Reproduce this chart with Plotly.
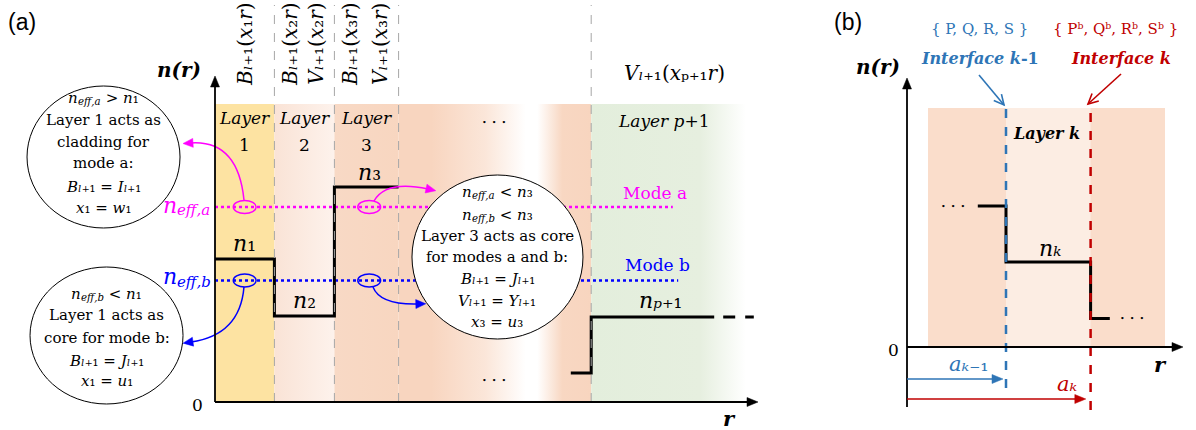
import math
import plotly.graph_objects as go

# ---------------- panel (a): multilayer step-index profile ----------------
layer_edges = [0.0, 0.99, 1.99, 3.06, 6.27]      # r of the layer boundaries
core_levels = [2.86, 1.72, 4.30]                 # n1, n2, n3
last_inner_level = 0.58                          # layer p (just before p+1)
clad_level = 1.70                                # n_{p+1}
last_inner_start = 5.93
clad_end = 8.32
clad_tail = [8.47, 8.98]                         # dashed continuation
clad_band_end = 8.85
neff_a = 3.90
neff_b = 2.43
neff_a_end = 7.63
neff_b_end = 7.72
band_top = 5.96
header_top = 7.94
axis_top_a = 6.52
axis_right_a = 9.05

# ---------------- panel (b): a single layer k ----------------
b_interfaces = [1.65, 3.06]        # a_{k-1}, a_k
b_levels = [2.82, 1.70, 0.57]      # n_{k-1}, n_k, n_{k+1}
b_step_span = [1.18, 3.38]
b_band = [0.35, 4.30]
b_band_top = 4.78
b_dash_bottom = [-0.82, -1.26]
b_radius_rows = [-0.64, -1.04]
axis_top_b = 5.38
axis_bottom_b = -1.20
axis_right_b = 4.60

# screen scale of both panels (pixels per unit of r and of n)
PX_R, PX_N = 60.0, 50.0

SERIF = "DejaVu Serif"
SANS = "Liberation Sans"
MAGENTA = "#FF00FF"
BLUE = "#0000FF"
IF_BLUE = "#2E75B6"
IF_RED = "#C00000"

fig = go.Figure()

# ---------- background bands (a) ----------
band_styles = [
    [[0, "#FDE3A2"], [1, "#FDE3A2"]],
    [[0, "#FAE3D6"], [1, "#FDF2EC"]],
    [[0, "#F8D9C5"], [1, "#F8D6C0"]],
    [[0, "#F8D5BF"], [0.17, "#F8D5BF"], [0.45, "#FBE6D9"], [0.66, "#FFFFFF"],
     [0.72, "#FFFFFF"], [0.85, "#F8D7C2"], [1, "#F8D5BF"]],
]
for i, cs in enumerate(band_styles):
    x0, x1 = layer_edges[i], layer_edges[i + 1]
    fig.add_trace(go.Scatter(
        x=[x0, x1, x1, x0, x0], y=[0, 0, band_top, band_top, 0],
        xaxis="x", yaxis="y", mode="lines", line=dict(width=0),
        fill="toself", fillgradient=dict(type="horizontal", colorscale=cs, start=x0, stop=x1),
        hoverinfo="skip", showlegend=False))
# outer cladding band fading out
x0, x1 = layer_edges[-1], clad_band_end
fig.add_trace(go.Scatter(
    x=[x0, x1, x1, x0, x0], y=[0, 0, band_top, band_top, 0],
    xaxis="x", yaxis="y", mode="lines", line=dict(width=0),
    fill="toself",
    fillgradient=dict(type="horizontal",
                      colorscale=[[0, "#E3EEDC"], [0.7, "#E6EFDF"], [1, "#FFFFFF"]],
                      start=x0, stop=x1),
    hoverinfo="skip", showlegend=False))

# ---------- background bands (b) ----------
fig.add_trace(go.Scatter(
    x=[b_band[0], b_band[1], b_band[1], b_band[0], b_band[0]],
    y=[0, 0, b_band_top, b_band_top, 0], xaxis="x2", yaxis="y2",
    mode="lines", line=dict(width=0), fill="toself", fillcolor="#FADDCB",
    hoverinfo="skip", showlegend=False))
fig.add_trace(go.Scatter(
    x=[b_interfaces[0], b_interfaces[1], b_interfaces[1], b_interfaces[0], b_interfaces[0]],
    y=[0, 0, b_band_top, b_band_top, 0], xaxis="x2", yaxis="y2",
    mode="lines", line=dict(width=0), fill="toself", fillcolor="#FCEDE3",
    hoverinfo="skip", showlegend=False))

shapes = []
annotations = []


def head(xr, yr, tip, toward, col, length=10, half=4.5, open_head=False):
    """Arrowhead at `tip`, pointing along the direction from `toward` to `tip`."""
    dx = (tip[0] - toward[0]) * PX_R
    dy = (tip[1] - toward[1]) * PX_N
    d = math.hypot(dx, dy)
    ux, uy = dx / d, dy / d
    bx, by = -ux * length, -uy * length
    c1 = (tip[0] + (bx - uy * half) / PX_R, tip[1] + (by + ux * half) / PX_N)
    c2 = (tip[0] + (bx + uy * half) / PX_R, tip[1] + (by - ux * half) / PX_N)
    if open_head:
        path = f"M {c1[0]},{c1[1]} L {tip[0]},{tip[1]} L {c2[0]},{c2[1]}"
        shapes.append(dict(type="path", xref=xr, yref=yr, path=path,
                           line=dict(color=col, width=1.6)))
    else:
        path = f"M {tip[0]},{tip[1]} L {c1[0]},{c1[1]} L {c2[0]},{c2[1]} Z"
        shapes.append(dict(type="path", xref=xr, yref=yr, path=path, fillcolor=col,
                           line=dict(color=col, width=0.5)))


def arrow(xr, yr, tail, tip, col, width=1.5, length=10, half=4.5, open_head=False):
    # shorten the shaft so it does not poke through the head
    dx = (tip[0] - tail[0]) * PX_R
    dy = (tip[1] - tail[1]) * PX_N
    d = math.hypot(dx, dy)
    k = 0 if open_head else (length * 0.8) / d
    end = (tip[0] - (tip[0] - tail[0]) * k, tip[1] - (tip[1] - tail[1]) * k)
    shapes.append(dict(type="line", xref=xr, yref=yr, x0=tail[0], y0=tail[1],
                       x1=end[0], y1=end[1], line=dict(color=col, width=width)))
    head(xr, yr, tip, tail, col, length, half, open_head)


# layer boundaries (a)
for r in layer_edges[1:]:
    shapes.append(dict(type="line", xref="x", yref="y", x0=r, x1=r, y0=0, y1=header_top,
                       line=dict(color="#A6A6A6", width=1, dash="dash")))

# effective index lines
fig.add_trace(go.Scatter(x=[0, neff_a_end], y=[neff_a, neff_a], xaxis="x", yaxis="y",
                         mode="lines", line=dict(color=MAGENTA, width=2.5, dash="dot"),
                         hoverinfo="skip", showlegend=False))
fig.add_trace(go.Scatter(x=[0, neff_b_end], y=[neff_b, neff_b], xaxis="x", yaxis="y",
                         mode="lines", line=dict(color=BLUE, width=2.5, dash="dot"),
                         hoverinfo="skip", showlegend=False))

# index profile (a)
fig.add_trace(go.Scatter(
    x=layer_edges[:3] + [layer_edges[3]],
    y=core_levels + [core_levels[-1]],
    xaxis="x", yaxis="y", mode="lines", line=dict(color="black", width=3, shape="hv"),
    hoverinfo="skip", showlegend=False))
fig.add_trace(go.Scatter(
    x=[last_inner_start, layer_edges[-1], clad_end],
    y=[last_inner_level, clad_level, clad_level],
    xaxis="x", yaxis="y", mode="lines", line=dict(color="black", width=3, shape="hv"),
    hoverinfo="skip", showlegend=False))
fig.add_trace(go.Scatter(
    x=clad_tail, y=[clad_level, clad_level], xaxis="x", yaxis="y", mode="lines",
    line=dict(color="black", width=3, dash="12px,10px"), hoverinfo="skip", showlegend=False))

# index profile (b)
fig.add_trace(go.Scatter(
    x=[b_step_span[0], b_interfaces[0], b_interfaces[1], b_step_span[1]],
    y=[b_levels[0], b_levels[1], b_levels[2], b_levels[2]],
    xaxis="x2", yaxis="y2", mode="lines", line=dict(color="black", width=3, shape="hv"),
    hoverinfo="skip", showlegend=False))

# interfaces (b)
for r, yb, col in zip(b_interfaces, b_dash_bottom, [IF_BLUE, IF_RED]):
    shapes.append(dict(type="line", xref="x2", yref="y2", x0=r, x1=r, y0=yb, y1=b_band_top,
                       line=dict(color=col, width=2.5, dash="dash")))

# mode markers (ellipses) on the neff lines
for rc in [(layer_edges[0] + layer_edges[1]) / 2, 2.57]:
    for yc, col in [(neff_a, MAGENTA), (neff_b, BLUE)]:
        shapes.append(dict(type="circle", xref="x", yref="y", x0=rc - 0.19, x1=rc + 0.19,
                           y0=yc - 0.13, y1=yc + 0.13, line=dict(color=col, width=1.5)))

# annotation bubbles
bubbles = [(-1.858, 4.90, 1.275, 1.42), (-1.808, 1.33, 1.275, 1.37), (4.708, 2.90, 1.425, 1.64)]
for cx, cy, rx, ry in bubbles:
    shapes.append(dict(type="circle", xref="x", yref="y", x0=cx - rx, x1=cx + rx,
                       y0=cy - ry, y1=cy + ry, fillcolor="white",
                       line=dict(color="black", width=1), layer="above"))

# curved pointer arrows: (start, control, end, colour)
curves = [
    ((0.483, 4.04), (0.383, 5.24), (-0.40, 5.18), MAGENTA),
    ((2.65, 4.02), (2.85, 4.44), (3.55, 4.26), MAGENTA),
    ((0.483, 2.30), (0.417, 1.34), (-0.40, 1.20), BLUE),
    ((2.633, 2.30), (2.75, 1.94), (3.38, 1.96), BLUE),
]
for (sx, sy), (qx, qy), (ex, ey), col in curves:
    shapes.append(dict(type="path", xref="x", yref="y",
                       path=f"M {sx},{sy} Q {qx},{qy} {ex},{ey}",
                       line=dict(color=col, width=1.5)))
    # head continues the curve's end tangent
    dx, dy = (ex - qx) * PX_R, (ey - qy) * PX_N
    d = math.hypot(dx, dy)
    tip = (ex + 8 * dx / d / PX_R, ey + 8 * dy / d / PX_N)
    head("x", "y", tip, (ex, ey), col, length=10, half=4.5)

# axes
arrow("x", "y", (0, 0), (0, axis_top_a), "black", width=1.8, length=11, half=4.5)
arrow("x", "y", (0, 0), (axis_right_a, 0), "black", width=1.8, length=11, half=4.5)
arrow("x2", "y2", (0, axis_bottom_b), (0, axis_top_b), "black", width=1.8, length=11, half=4.5)
arrow("x2", "y2", (0, 0), (axis_right_b, 0), "black", width=1.8, length=11, half=4.5)

# interface pointers and radius arrows (b)
arrow("x2", "y2", (1.20, 5.44), (1.617, 4.84), IF_BLUE, width=1.6, length=10, half=5,
      open_head=True)
arrow("x2", "y2", (3.567, 5.46), (3.017, 4.86), IF_RED, width=1.6, length=10, half=5,
      open_head=True)
arrow("x2", "y2", (0, b_radius_rows[0]), (b_interfaces[0] - 0.05, b_radius_rows[0]), IF_BLUE,
      width=1.5, length=11, half=4.5)
arrow("x2", "y2", (0, b_radius_rows[1]), (b_interfaces[1] - 0.08, b_radius_rows[1]), IF_RED,
      width=1.5, length=11, half=4.5)


# ---------------- text ----------------
_SUB = str.maketrans("0123456789+-lkp", "₀₁₂₃₄₅₆₇₈₉₊₋ₗₖₚ")


def S(s, italic_letters=True):
    """Subscript via Unicode subscript glyphs; letters set in italics."""
    out = []
    for ch in s:
        g = ch.translate(_SUB)
        out.append(f"<i>{g}</i>" if (ch.isalpha() and italic_letters) else g)
    return "".join(out)


def txt(x, y, text, size=16, color="black", family=SERIF, xref="x", yref="y",
        xanchor="center", yanchor="middle", angle=0):
    annotations.append(dict(x=x, y=y, xref=xref, yref=yref, text=text, showarrow=False,
                            font=dict(family=family, size=size, color=color),
                            xanchor=xanchor, yanchor=yanchor, textangle=angle,
                            borderpad=0, borderwidth=0))


# approximate DejaVu Serif advance widths (em) for the few runs that are measured
_W = {"n": 0.64, "e": 0.59, "f": 0.37, ",": 0.32, "a": 0.60, "b": 0.64, " ": 0.32,
      ">": 0.84, "<": 0.84, "₁": 0.40, "₃": 0.40}


def width(s, size):
    return sum(_W.get(c, 0.6) for c in s) * size


def eff_term(x_px_left, y, mode, size, color, xr="x", yr="y", rest=""):
    """Draw n_{eff,mode}[rest] with its left edge at x_px_left (pixel units of r)."""
    sub_size = size * 0.68
    n_w = width("n", size)
    sub_txt = f"eff,{mode}"
    sub_w = width(sub_txt, sub_size)
    txt(x_px_left / PX_R, y, "<i>n</i>", size=size, color=color, xref=xr, yref=yr,
        xanchor="left")
    txt((x_px_left + n_w) / PX_R, y - 0.24 * size / PX_N, f"<i>{sub_txt}</i>", size=sub_size,
        color=color, xref=xr, yref=yr, xanchor="left")
    if rest:
        txt((x_px_left + n_w + sub_w) / PX_R, y, rest, size=size, color=color, xref=xr, yref=yr,
            xanchor="left")
    return n_w + sub_w


def eff_line(cx, y, mode, rel, idx, size):
    rest = f" {rel} <i>n</i>{S(idx)}"
    total = width("n", size) + width(f"eff,{mode}", size * 0.68) + width(" > n₁", size)
    eff_term(cx * PX_R - total / 2, y, mode, size, "black", rest=rest)


L1 = S("l+1")
DOTS = "•  •  •"
BUB = 15

# panel labels
txt(8 / 1196, 1 - 22 / 430, "(a)", size=23, family=SANS, xref="paper", yref="paper",
    xanchor="left")
txt(834 / 1196, 1 - 22 / 430, "(b)", size=23, family=SANS, xref="paper", yref="paper",
    xanchor="left")

# panel (a) texts
txt(-0.6, 6.64, "<b><i>n(r)</i></b>", size=20)
txt(-0.3, -0.06, "0", size=17)
txt(8.57, -0.32, "<b><i>r</i></b>", size=21)
txt(0.5, 7.16, f"<i>B</i>{L1}(<i>x</i>{S('1')}<i>r</i>)", size=20, angle=-90)
txt(1.25, 7.16, f"<i>B</i>{L1}(<i>x</i>{S('2')}<i>r</i>)", size=20, angle=-90)
txt(1.68, 7.16, f"<i>V</i>{L1}(<i>x</i>{S('2')}<i>r</i>)", size=20, angle=-90)
txt(2.25, 7.16, f"<i>B</i>{L1}(<i>x</i>{S('3')}<i>r</i>)", size=20, angle=-90)
txt(2.75, 7.16, f"<i>V</i>{L1}(<i>x</i>{S('3')}<i>r</i>)", size=20, angle=-90)
txt(7.65, 6.58, f"<i>V</i>{L1}(<i>x</i>{S('p+1', False)}<i>r</i>)", size=20)

for i in range(3):
    mid = (layer_edges[i] + layer_edges[i + 1]) / 2
    txt(mid, 5.68, "<i>Layer</i>", size=17)
    txt(mid, 5.14, f"{i + 1}", size=17)
txt(7.48, 5.62, "<i>Layer p</i>+1", size=17)
txt(4.65, 5.6, DOTS, size=8)
txt(4.65, 0.44, DOTS, size=8)

txt((layer_edges[0] + layer_edges[1]) / 2, core_levels[0] + 0.32, f"<i>n</i>{S('1')}", size=22)
txt((layer_edges[1] + layer_edges[2]) / 2, core_levels[1] + 0.32, f"<i>n</i>{S('2')}", size=22)
txt(2.57, core_levels[2] + 0.30, f"<i>n</i>{S('3')}", size=22)
txt(7.42, clad_level + 0.34, f"<i>n</i>{S('p+1')}", size=22)
txt(7.33, 4.18, "Mode a", size=17, color=MAGENTA)
txt(7.38, 2.74, "Mode b", size=17, color=BLUE)

# large n_eff labels, right edge at the profile axis
for mode, yv, col in [("a", neff_a + 0.04, MAGENTA), ("b", neff_b + 0.08, BLUE)]:
    size = 22
    w_total = width("n", size) + width(f"eff,{mode}", size * 0.68)
    eff_term(-4 - w_total, yv, mode, size, col)

# bubble texts, one annotation per line for tight line spacing
eff_line(-1.858, 6.08, "a", "&gt;", "1", BUB)
for yy, line in zip([5.64, 5.20, 4.78, 4.30, 3.88], [
        "Layer 1 acts as", "cladding for", "mode a:",
        f"<i>B</i>{L1} = <i>I</i>{L1}", f"<i>x</i>{S('1')} = <i>w</i>{S('1')}"]):
    txt(-1.858, yy, line, size=BUB)

eff_line(-1.808, 2.16, "b", "&lt;", "1", BUB)
for yy, line in zip([1.74, 1.28, 0.82, 0.42], [
        "Layer 1 acts as", "core for mode b:", f"<i>B</i>{L1} = <i>J</i>{L1}",
        f"<i>x</i>{S('1')} = <i>u</i>{S('1')}"]):
    txt(-1.808, yy, line, size=BUB)

eff_line(4.708, 4.20, "a", "&lt;", "3", BUB)
eff_line(4.708, 3.74, "b", "&lt;", "3", BUB)
for yy, line in zip([3.32, 2.90, 2.46, 2.02, 1.60], [
        "Layer 3 acts as core", "for modes a and b:",
        f"<i>B</i>{L1} = <i>J</i>{L1}", f"<i>V</i>{L1} = <i>Y</i>{L1}",
        f"<i>x</i>{S('3')} = <i>u</i>{S('3')}"]):
    txt(4.708, yy, line, size=BUB)

# panel (b) texts
txt(-0.48, 5.60, "<b><i>n(r)</i></b>", size=20, xref="x2", yref="y2")
txt(-0.23, -0.06, "0", size=17, xref="x2", yref="y2")
txt(4.22, -0.34, "<b><i>r</i></b>", size=21, xref="x2", yref="y2")
txt(1.20, 6.36, "{ P, Q, R, S }", size=15, color=IF_BLUE, xref="x2", yref="y2")
txt(3.48, 6.36, "{ Pᵇ, Qᵇ, Rᵇ, Sᵇ }", size=15, color=IF_RED, xref="x2", yref="y2")
txt(1.22, 5.78, "<b><i>Interface k</i>-1</b>", size=16, color=IF_BLUE, xref="x2", yref="y2")
txt(3.57, 5.78, "<b><i>Interface k</i></b>", size=16, color=IF_RED, xref="x2", yref="y2")
txt(2.33, 4.28, "<b><i>Layer k</i></b>", size=16, xref="x2", yref="y2")
txt(2.38, 1.98, f"<i>n</i>{S('k')}", size=22, xref="x2", yref="y2")
txt(0.77, b_levels[0], DOTS, size=8, xref="x2", yref="y2")
txt(3.75, b_levels[2], DOTS, size=8, xref="x2", yref="y2")
txt(1.03, -0.34, f"<i>a</i>{S('k-1')}", size=21, color=IF_BLUE, xref="x2", yref="y2")
txt(2.67, -0.74, f"<i>a</i>{S('k')}", size=21, color=IF_RED, xref="x2", yref="y2")

ax_common = dict(visible=False, showgrid=False, zeroline=False, fixedrange=True)
fig.update_layout(
    width=1196, height=430, margin=dict(l=0, r=0, t=0, b=0),
    paper_bgcolor="white", plot_bgcolor="rgba(0,0,0,0)", showlegend=False,
    xaxis=dict(domain=[0, 840 / 1196], range=[-215 / PX_R, 625 / PX_R], **ax_common),
    yaxis=dict(domain=[0, 1], range=[-28 / PX_N, 402 / PX_N], **ax_common),
    xaxis2=dict(domain=[840 / 1196, 1], range=[-67 / PX_R, 289 / PX_R], anchor="y2",
                **ax_common),
    yaxis2=dict(domain=[0, 1], range=[-83 / PX_N, 347 / PX_N], anchor="x2", **ax_common),
    shapes=shapes, annotations=annotations,
)

fig.write_html("out.html")
